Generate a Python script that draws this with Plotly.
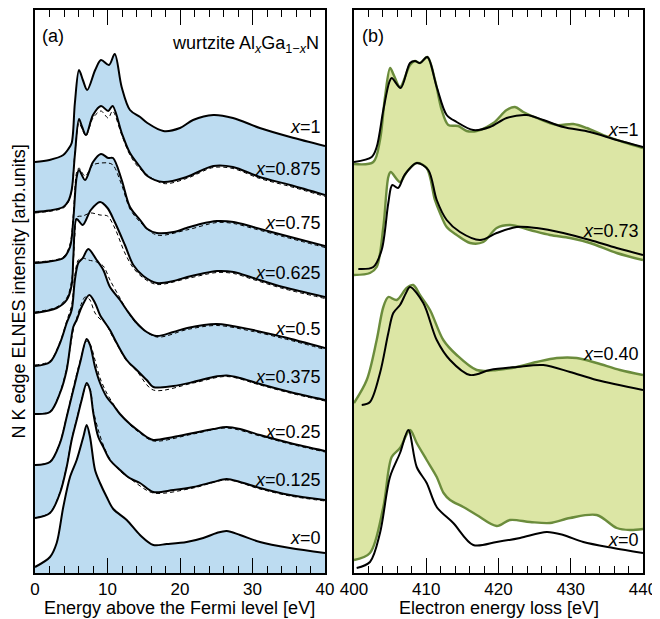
import plotly.graph_objects as go

# ---------------- Panel (a): N K-edge ELNES, wurtzite AlxGa1-xN (calc.) ----------------
# energies [eV above Fermi level] and intensities [arb. units, offset stacked]
a_x1_E = [0, 2.0, 3.9, 4.6, 5.06, 5.5, 6.07, 6.6, 7.2, 8.3, 9.1, 10.2, 11.0, 11.95, 13.1, 14.5, 15.5, 17.7, 20.0, 21.8, 24.6, 27.3, 31.0, 35.2, 40]
a_x1_I = [411, 413, 418, 424, 430, 470, 503, 493, 483, 503, 513, 508, 519, 486, 463, 456, 450, 442, 445, 453, 458, 455, 445, 436, 427]

a_x0875_E = [0, 2.0, 3.9, 4.6, 5.06, 5.5, 6.07, 6.5, 7.03, 8.0, 9.1, 10.1, 10.7, 11.96, 13.1, 14.5, 15.5, 17.7, 20.9, 24.6, 27.3, 31.0, 35.2, 40]
a_x0875_I = [361, 362.5, 366, 372, 383, 418, 454, 446, 438, 458, 467, 462, 467, 440, 420, 406, 397, 391, 396, 407, 406, 396, 388, 378]

a_x075_E = [0, 2.0, 3.9, 4.83, 5.28, 5.75, 6.07, 6.9, 8.0, 9.1, 10.1, 10.76, 11.96, 13.1, 14.5, 15.5, 16.8, 19.1, 20.9, 22.8, 25.1, 27.4, 30.1, 34.2, 40]
a_x075_I = [310, 311.5, 315, 326, 353, 396, 403, 393, 411, 419, 415, 415, 393, 366, 353, 344, 340, 341, 345, 349, 352, 351, 346, 338, 327]

a_x0625_E = [0, 3.0, 4.37, 5.06, 5.3, 5.75, 6.58, 7.7, 8.97, 10.0, 11.0, 12.4, 13.56, 14.94, 16.8, 19.1, 21.0, 22.8, 25.1, 27.4, 30.1, 34.2, 40]
a_x0625_I = [260, 265, 273, 288, 318, 354, 348, 363, 371, 365, 351, 328, 308, 297, 290, 292, 296, 299, 302, 301, 295, 286, 276]

a_x05_E = [0, 2.07, 3.45, 4.37, 5.06, 5.5, 5.97, 6.6, 7.35, 8.51, 9.42, 10.34, 11.72, 12.65, 14.03, 15.41, 16.79, 19.08, 21.0, 25.06, 30.1, 34.25, 40]
a_x05_I = [207, 211, 230, 250, 263, 293, 310, 315, 324, 313, 303, 286, 273, 263, 250, 241, 237, 241, 245, 249, 243, 236, 225]

a_x0375_E = [0, 2.07, 3.45, 4.37, 5.28, 5.75, 6.44, 7.49, 8.28, 8.97, 10.34, 11.27, 12.65, 14.03, 15.41, 16.32, 19.08, 21.83, 24.59, 26.44, 28.28, 31.03, 35.17, 40]
a_x0375_I = [159, 161, 180, 203, 246, 253, 266, 278, 270, 258, 243, 230, 213, 203, 193, 186, 187, 191, 196, 197.5, 195, 189, 181, 173]

a_x025_E = [0, 2.07, 3.45, 4.37, 5.28, 6.21, 7.13, 7.59, 8.28, 8.97, 9.89, 10.8, 11.72, 13.1, 14.48, 15.41, 16.32, 19.08, 21.83, 24.59, 26.44, 28.28, 31.03, 35.17, 40]
a_x025_I = [108, 111, 130, 156, 183, 210, 234, 228, 206, 190, 176, 168, 159, 149, 141, 136, 133, 136, 140, 144, 146, 144, 138, 130, 122]

a_x0125_E = [0, 2.07, 3.45, 4.37, 5.06, 5.75, 6.44, 7.13, 7.59, 8.04, 8.73, 9.42, 10.34, 11.72, 12.65, 13.56, 14.48, 16.32, 19.08, 21.83, 24.59, 26.44, 28.28, 31.03, 35.17, 40]
a_x0125_I = [55, 60, 80, 106, 133, 153, 173, 190, 183, 160, 136, 126, 113, 103, 97, 93, 90, 81, 83, 86, 91, 94, 91, 85, 78, 73]

a_x0_E = [0, 2.07, 2.99, 3.9, 4.83, 5.75, 6.66, 7.13, 7.59, 8.28, 8.97, 9.89, 10.8, 12.65, 14.48, 16.32, 18.17, 20.92, 23.21, 25.06, 26.44, 28.28, 31.03, 35.17, 40]
a_x0_I = [6, 16, 30, 66, 96, 113, 136, 148, 136, 103, 90, 76, 64, 53, 38, 28, 29, 31, 35, 40, 42, 38, 31, 25, 20]

# dashed (second calculation)
d_x0875_E = [0, 3.9, 4.6, 5.06, 5.5, 6.07, 6.5, 7.03, 8.0, 9.1, 10.1, 10.7, 11.96, 13.1, 14.5, 17.7, 20.9, 24.6, 27.3, 31.0, 35.2, 40]
d_x0875_I = [360, 365, 371, 383, 420, 450, 444, 437, 455, 462, 455, 462, 438, 418, 404, 389.5, 394.5, 405.5, 404.5, 394.5, 386.5, 376.5]

d_x075_E = [0, 3.9, 4.83, 5.28, 5.75, 6.07, 6.9, 8.0, 9.1, 10.1, 10.76, 11.96, 13.1, 14.5, 16.8, 20.9, 25.1, 27.4, 30.1, 34.2, 40]
d_x075_I = [311, 316, 329, 358, 401, 405, 397, 408, 410, 410, 408, 388, 364, 351, 338, 343, 350.5, 349.5, 344.5, 336.5, 325.5]

d_x0625_E = [0, 3.0, 4.37, 5.06, 5.5, 5.75, 6.58, 7.7, 8.97, 10.0, 11.0, 12.4, 13.56, 14.94, 16.8, 21.0, 25.1, 27.4, 30.1, 34.2, 40]
d_x0625_I = [261, 266, 275, 293, 338, 356, 357, 360, 358, 357, 345, 320, 305, 295, 288.5, 294.5, 300.5, 299.5, 293.5, 284.5, 274.5]

d_x05_E = [0, 2.07, 3.45, 4.37, 5.06, 5.5, 5.97, 6.6, 7.35, 8.51, 9.42, 10.34, 11.72, 12.65, 14.03, 16.79, 21.0, 25.06, 30.1, 34.25, 40]
d_x05_I = [208, 212, 231, 252, 268, 298, 313, 315, 313, 311, 307, 293, 275, 263, 249, 236, 243.5, 247.5, 241.5, 234.5, 223.5]

d_x0375_E = [0, 2.07, 3.45, 4.37, 5.28, 5.75, 6.44, 6.9, 7.49, 8.28, 8.97, 9.6, 10.58, 11.27, 12.65, 14.03, 16.32, 21.83, 26.44, 31.03, 35.17, 40]
d_x0375_I = [159.5, 161.5, 181, 205, 243, 255, 270, 276, 274, 260, 254, 251, 238, 229, 212, 202, 183, 190, 196.5, 188, 180, 172]

d_x025_E = [0, 2.07, 3.45, 4.37, 5.28, 6.21, 7.13, 7.59, 8.28, 8.97, 9.89, 10.8, 11.72, 13.1, 14.48, 16.32, 21.83, 26.44, 31.03, 35.17, 40]
d_x025_I = [108, 111.5, 131, 157, 185, 212, 232, 229, 213, 195, 180, 169, 159, 148, 140, 132, 139, 145, 137, 129, 121]

d_x0125_E = [0, 2.07, 3.45, 4.37, 5.06, 5.75, 6.44, 7.13, 7.59, 8.04, 8.73, 9.42, 10.34, 11.72, 13.56, 16.32, 21.83, 26.44, 31.03, 35.17, 40]
d_x0125_I = [55, 60.5, 81, 107, 134, 154, 174, 188, 184, 163, 143, 128, 114, 102, 92, 80, 85, 93, 84, 77, 72]

a_labels = ["<i>x</i>=1", "<i>x</i>=0.875", "<i>x</i>=0.75", "<i>x</i>=0.625", "<i>x</i>=0.5",
            "<i>x</i>=0.375", "<i>x</i>=0.25", "<i>x</i>=0.125", "<i>x</i>=0"]
a_label_I = [446, 404, 350, 300, 244, 196, 141, 93, 35]

# ---------------- Panel (b): experiment (green) vs theory (black) ----------------
b_g1_E = [400.0, 402.67, 403.6, 404.29, 405.0, 405.5, 406.37, 407.75, 408.44, 409.13, 410.15, 411.21, 412.14, 413.05, 414.44, 415.6, 416.98, 419.28, 421.13, 422.28, 423.43, 425.29, 428.06, 430.35, 432.21, 434.5, 437.27, 440]
b_g1_I = [409, 411, 433, 476, 505, 498, 486, 508, 512, 510, 516, 493, 463, 448, 447, 442, 442, 450, 463, 466, 461, 455, 448, 449, 445, 438, 431, 425]
b_k1_E = [400.0, 402.45, 403.14, 404.06, 404.89, 405.22, 406.46, 407.75, 408.44, 409.13, 410.15, 411.45, 412.83, 414.21, 416.51, 418.82, 421.13, 423.9, 426.2, 428.97, 432.66, 436.36, 440]
b_k1_I = [411, 416, 426, 463, 491, 495, 485, 510, 512, 510, 516, 486, 458, 451, 443, 446, 455, 458, 453, 446, 441, 433, 426]

b_g073_E = [400.0, 402.21, 403.14, 404.06, 404.75, 405.08, 406.37, 407.29, 408.68, 410.06, 411.2, 411.9, 412.83, 414.21, 416.06, 417.9, 419.75, 421.59, 424.36, 427.13, 429.9, 432.66, 436.36, 440]
b_g073_I = [298, 300, 306, 346, 396, 401, 391, 401, 410, 405, 373, 360, 346, 338, 330, 331, 345, 348, 343, 338, 335, 330, 320, 313]
b_k073_E = [400.6, 402.67, 403.83, 404.75, 405.3, 406.1, 407.0, 408.68, 410.28, 411.45, 412.83, 414.67, 417.44, 419.75, 422.52, 425.29, 428.97, 432.66, 436.36, 440]
b_k073_I = [304, 306, 323, 370, 388, 385, 398, 410, 403, 373, 353, 341, 333, 340, 346, 345, 340, 333, 325, 318]

b_g040_E = [400.0, 401.76, 403.14, 404.06, 404.75, 405.91, 407.29, 408.2, 409.13, 410.52, 412.36, 414.21, 416.98, 419.75, 422.52, 425.29, 428.06, 430.82, 433.59, 436.82, 440]
b_g040_I = [170, 193, 233, 266, 276, 273, 285, 288, 278, 263, 233, 218, 203, 203, 206, 211, 215, 215, 210, 203, 198]
b_k040_E = [401.07, 402.21, 403.6, 404.75, 405.44, 406.37, 407.2, 407.75, 409.59, 411.45, 413.29, 416.06, 418.82, 422.52, 426.2, 429.9, 433.59, 440]
b_k040_I = [168, 171, 200, 240, 260, 268, 280, 286, 270, 233, 213, 198, 203, 206, 208, 201, 193, 183]

b_g0_E = [400.0, 402.21, 404.06, 405.22, 406.37, 407.75, 408.68, 410.06, 411.45, 412.4, 413.3, 415.13, 416.98, 419.75, 421.59, 424.36, 427.13, 429.9, 433.59, 436.36, 438.2, 440]
b_g0_I = [13, 20, 66, 116, 125, 143, 130, 113, 96, 80, 73, 66, 58, 47, 53, 51, 50, 55, 58, 45, 43, 44]
b_k0_E = [400.37, 402.21, 403.6, 404.98, 406.37, 407.52, 408.68, 410.06, 411.45, 413.74, 416.51, 419.75, 422.98, 426.67, 428.97, 431.74, 435.89, 440]
b_k0_I = [5, 11, 40, 96, 120, 143, 106, 90, 66, 50, 28, 31, 35, 41, 38, 31, 25, 20]

b_labels = ["<i>x</i>=1", "<i>x</i>=0.73", "<i>x</i>=0.40", "<i>x</i>=0"]
b_label_I = [443, 342, 219, 33]

# ---------------- styling ----------------
BLUE = "#bddcf1"
GFILL = "#dce6a5"
GLINE = "#6b8c3c"
FONT = "Liberation Sans, Arial, Helvetica, sans-serif"
SM = 0.9
# the page body has an 8 px default margin; the figure is sized to the visible area
W, H = 652, 611

fig = go.Figure()

def fill(E, I, color, xa, ya):
    fig.add_trace(go.Scatter(x=E, y=I, mode="lines", xaxis=xa, yaxis=ya,
                             line=dict(width=0, shape="spline", smoothing=SM),
                             fill="tozeroy", fillcolor=color, hoverinfo="skip", showlegend=False))

def line(E, I, xa, ya, color="black", width=2.0, dash="solid"):
    fig.add_trace(go.Scatter(x=E, y=I, mode="lines", xaxis=xa, yaxis=ya,
                             line=dict(width=width, color=color, dash=dash, shape="spline", smoothing=SM),
                             hoverinfo="skip", showlegend=False))

a_solid = [(a_x1_E, a_x1_I), (a_x0875_E, a_x0875_I), (a_x075_E, a_x075_I), (a_x0625_E, a_x0625_I),
           (a_x05_E, a_x05_I), (a_x0375_E, a_x0375_I), (a_x025_E, a_x025_I), (a_x0125_E, a_x0125_I),
           (a_x0_E, a_x0_I)]
a_dash = [(d_x0875_E, d_x0875_I), (d_x075_E, d_x075_I), (d_x0625_E, d_x0625_I), (d_x05_E, d_x05_I),
          (d_x0375_E, d_x0375_I), (d_x025_E, d_x025_I), (d_x0125_E, d_x0125_I)]

for k, (E, I) in enumerate(a_solid):
    fill(E, I, BLUE if k % 2 == 0 else "white", "x", "y")

b_green = [(b_g1_E, b_g1_I), (b_g073_E, b_g073_I), (b_g040_E, b_g040_I), (b_g0_E, b_g0_I)]
b_black = [(b_k1_E, b_k1_I), (b_k073_E, b_k073_I), (b_k040_E, b_k040_I), (b_k0_E, b_k0_I)]
for k, (E, I) in enumerate(b_green):
    fill(E, I, GFILL if k % 2 == 0 else "white", "x2", "y2")

for E, I in a_dash:
    line(E, I, "x", "y", width=1.0, dash="4px,3px")
for E, I in a_solid:
    line(E, I, "x", "y", width=2.0)
for E, I in b_green:
    line(E, I, "x2", "y2", color=GLINE, width=2.4)
for E, I in b_black:
    line(E, I, "x2", "y2", width=2.0)

xcommon = dict(ticks="inside", ticklen=15, tickwidth=1.2, tickcolor="black",
               minor=dict(dtick=2, ticklen=7, ticks="inside", tickwidth=1.2, tickcolor="black", showgrid=False),
               showline=True, linecolor="black", linewidth=1.5, mirror="allticks", automargin=False,
               showgrid=False, zeroline=False, tickfont=dict(size=17, color="black", family=FONT))
ycommon = dict(range=[0, 563], showticklabels=False, ticks="", showline=True, linecolor="black",
               linewidth=1.5, mirror=True, showgrid=False, zeroline=False, domain=[0, 1], automargin=False)

fig.update_layout(
    template="none",
    width=W, height=H, margin=dict(l=0, r=0, t=2, b=46, autoexpand=False),
    paper_bgcolor="white", plot_bgcolor="white",
    font=dict(family=FONT, size=17, color="black"),
    xaxis=dict(domain=[27 / W, 317 / W], range=[0, 40], tickvals=[0, 10, 20, 30, 40], anchor="y", **xcommon),
    xaxis2=dict(domain=[346 / W, 635 / W], range=[400, 440], tickvals=[400, 410, 420, 430, 440], anchor="y2", **xcommon),
    yaxis=dict(anchor="x", **ycommon),
    yaxis2=dict(anchor="x2", **ycommon),
)

ann = []
for t, yv in zip(a_labels, a_label_I):
    ann.append(dict(x=40, y=yv, xref="x", yref="y", text=t, showarrow=False, xanchor="right",
                    xshift=-2, yanchor="middle", font=dict(size=18)))
for t, yv in zip(b_labels, b_label_I):
    ann.append(dict(x=440, y=yv, xref="x2", yref="y2", text=t, showarrow=False, xanchor="right",
                    xshift=-2, yanchor="middle", font=dict(size=18)))
ann += [
    dict(x=0.7, y=537, xref="x", yref="y", text="(a)", showarrow=False, xanchor="left", yanchor="middle", font=dict(size=18)),
    dict(x=400.8, y=537, xref="x2", yref="y2", text="(b)", showarrow=False, xanchor="left", yanchor="middle", font=dict(size=18)),
    dict(x=40, y=529, xref="x", yref="y", xshift=-4,
         text="wurtzite Al<sub><i>x</i></sub>Ga<sub>1\u2212<i>x</i></sub>N",
         showarrow=False, xanchor="right", yanchor="middle", font=dict(size=18)),
    dict(x=172 / W, y=-0.0615, xref="paper", yref="paper", text="Energy above the Fermi level [eV]",
         showarrow=False, xanchor="center", yanchor="middle", font=dict(size=18)),
    dict(x=490.5 / W, y=-0.0615, xref="paper", yref="paper", text="Electron energy loss [eV]",
         showarrow=False, xanchor="center", yanchor="middle", font=dict(size=18)),
    dict(x=10 / W, y=0.5, xref="paper", yref="paper", text="N K edge ELNES intensity [arb.units]",
         showarrow=False, textangle=-90, xanchor="center", yanchor="middle", font=dict(size=18)),
]
fig.update_layout(annotations=ann)

fig.write_html("out.html")
